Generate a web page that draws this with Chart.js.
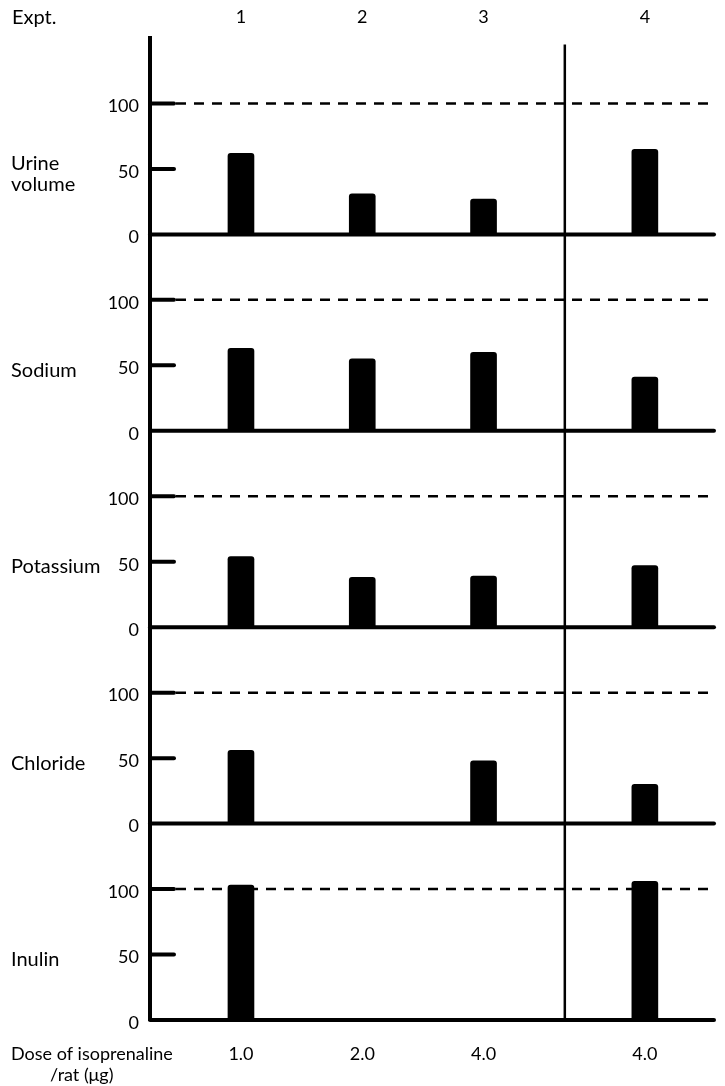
<!DOCTYPE html>
<html lang="en">
  <head>
    <meta charset="UTF-8" />
    <title>Isoprenaline</title>
    <script src="https://cdn.jsdelivr.net/npm/chart.js@4"></script>
    <style>
      body { margin: 0; background: #fff; }
    </style>
  </head>
  <body>
	<canvas id="myChart" width="725" height="1086"></canvas>
	<script>
	    // experiments and doses (x axis)
	    const expts = ['1', '2', '3', '4'];
	    const doses = ['1.0', '2.0', '4.0', '4.0'];
	    const exptPos = [1, 2, 3, 4.33];
	    const dividerPos = 3.67;
	    // % of control
	    const panelLabels = [['Urine', 'volume'], ['Sodium'], ['Potassium'], ['Chloride'], ['Inulin']];
	    const urine = [62, 31, 27, 65];
	    const sodium = [63, 55, 60, 41];
	    const potassium = [54, 38, 39, 47];
	    const chloride = [56, null, 48, 30];
	    const inulin = [103, null, null, 106];
	    const yTicks = [0, 50, 100];

	    const series = [urine, sodium, potassium, chloride, inulin];
	    const ids = series.map((s, i) => 'y' + i);
	    const font = {family: 'Lato', size: 18};

	    function line(ctx, x1, y1, x2, y2) {
		ctx.beginPath();
		ctx.moveTo(x1, y1);
		ctx.lineTo(x2, y2);
		ctx.stroke();
	    }

	    const marks = {
		id: 'marks',
		beforeDatasetsDraw(chart) {
		    const {ctx, chartArea: a, scales} = chart;
		    ctx.save();
		    ctx.strokeStyle = '#000';
		    ctx.lineWidth = 2.5;
		    ctx.setLineDash([10, 8]);
		    ids.forEach(id => {
			const p = scales[id].getPixelForValue(100);
			line(ctx, a.left + 26, p, a.right - 4, p);
		    });
		    ctx.restore();
		},
		afterDatasetsDraw(chart) {
		    const {ctx, chartArea: a, scales} = chart;
		    ctx.save();
		    ctx.strokeStyle = '#000';
		    ctx.fillStyle = '#000';
		    ctx.lineCap = 'round';
		    ids.forEach((id, i) => {
			const s = scales[id];
			ctx.lineWidth = 4;
			const p0 = s.getPixelForValue(0);
			line(ctx, a.left, p0, a.right, p0);
			[50, 100].forEach(v => {
			    const p = s.getPixelForValue(v);
			    line(ctx, a.left, p, a.left + 24, p);
			});
			// panel name
			ctx.font = '20px Lato';
			ctx.textBaseline = 'middle';
			ctx.textAlign = 'left';
			const lab = panelLabels[i];
			const mid = s.getPixelForValue(50) + 5;
			lab.forEach((t, k) => {
			    ctx.fillText(t, 11, mid + (k - (lab.length - 1) / 2) * 21);
			});
		    });
		    // divider between expt 3 and 4
		    const xd = scales.x.getPixelForValue(dividerPos);
		    ctx.lineWidth = 2.5;
		    ctx.lineCap = 'butt';
		    line(ctx, xd, scales.y0.getPixelForValue(145), xd, a.bottom);
		    ctx.textBaseline = 'middle';
		    ctx.font = '20px Lato';
		    ctx.fillText('Expt.', 12, a.top - 20);
		    ctx.font = '18px Lato';
		    ctx.fillText('Dose of isoprenaline', 11, a.bottom + 34);
		    ctx.fillText('/rat (\u03bcg)', 50, a.bottom + 55);
		    ctx.restore();
		}
	    };

	    const scales = {
		x: {
		    type: 'linear', position: 'bottom', min: 0.25, max: 4.9, offset: false,
		    afterBuildTicks: s => { s.ticks = exptPos.map(v => ({value: v})); },
		    afterFit: s => { s.height = 66; },
		    grid: {display: false, drawTicks: false, offset: false},
		    border: {display: false},
		    ticks: {color: '#000', font: font, padding: 23, callback: (v, i) => doses[i]}
		},
		xTop: {
		    type: 'linear', position: 'top', min: 0.25, max: 4.9, offset: false,
		    afterBuildTicks: s => { s.ticks = exptPos.map(v => ({value: v})); },
		    afterFit: s => { s.height = 38; },
		    grid: {display: false, drawTicks: false, offset: false},
		    border: {display: false},
		    ticks: {color: '#000', font: font, padding: 10, callback: (v, i) => expts[i]}
		}
	    };
	    // stacked panels are laid out bottom-up, so add them in reverse
	    ids.slice().reverse().forEach(id => {
		scales[id] = {
		    type: 'linear', position: 'left', stack: 'panels', min: 0, max: 150,
		    afterBuildTicks: s => { s.ticks = yTicks.map(v => ({value: v})); },
		    afterFit: s => { s.width = 150; },
		    grid: {display: false, drawTicks: false},
		    border: {display: true, color: '#000', width: 4},
		    ticks: {color: '#000', font: font, padding: 11, labelOffset: 3}
		};
	    });

	    const datasets = series.map((vals, i) => ({
		label: panelLabels[i].join(' '),
		yAxisID: ids[i],
		xAxisID: 'x',
		data: vals.map((v, k) => ({x: exptPos[k], y: v})).filter(d => d.y !== null),
		backgroundColor: '#000',
		barThickness: 26,
		grouped: false,
		borderRadius: {topLeft: 3, topRight: 3},
		borderSkipped: 'bottom'
	    }));

	    const ctx = document.getElementById('myChart').getContext('2d');
	    const myChart = new Chart(ctx, {
		type: 'bar',
		data: {datasets: datasets},
		options: {
		    responsive: false,
		    animation: false,
		    devicePixelRatio: 1,
		    layout: {padding: {left: 0, right: 11, top: 0, bottom: 0}},
		    plugins: {legend: {display: false}, tooltip: {enabled: false}},
		    scales: scales
		},
		plugins: [marks]
	    });
	</script>
    </body>
</html>
